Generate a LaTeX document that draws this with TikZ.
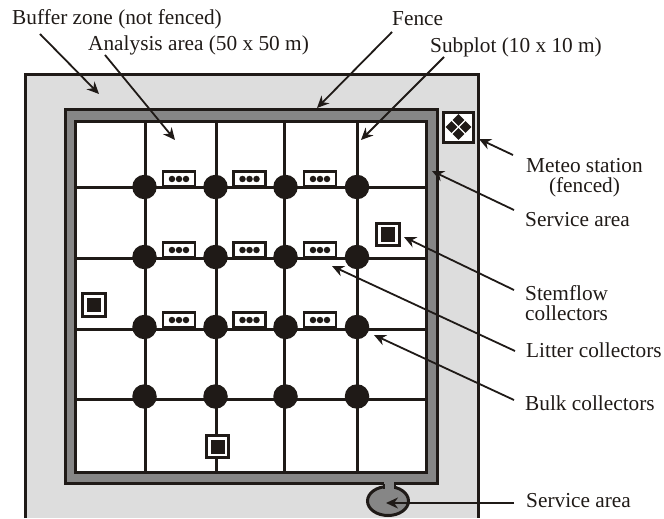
\documentclass[tikz,border=0pt]{standalone}
\usepackage{fontspec}
\setmainfont{Liberation Serif}
\usetikzlibrary{arrows.meta,shapes.geometric}
\definecolor{ink}{HTML}{1F1A17}
\definecolor{zone}{HTML}{DDDDDD}
\definecolor{svc}{HTML}{868686}
\tikzset{
  lbl/.style={font=\fontsize{21.3bp}{20.5bp}\selectfont,text=ink,inner sep=0pt,align=center},
  leader/.style={draw=ink,line width=1.8bp,-{Stealth[length=12bp,width=11bp]}},
  gridline/.style={draw=ink,line width=3bp},
  bulk/.style={circle,fill=ink,minimum size=24.5bp,inner sep=0pt},
  stem/.style={draw=ink,line width=3bp,fill=white,minimum size=22.5bp,inner sep=0pt},
  stemcore/.style={fill=ink,minimum size=14bp,inner sep=0pt},
  litter/.style={draw=ink,line width=2.2bp,fill=white,minimum width=32bp,minimum height=15bp,inner sep=0pt},
  lit dot/.style={circle,fill=ink,minimum size=6.5bp,inner sep=0pt},
  gem/.style={diamond,fill=ink,minimum size=12bp,inner sep=0pt}
}
\begin{document}
\begin{tikzpicture}[x=1bp,y=-1bp]
\useasboundingbox (0,0) rectangle (664,519);
% buffer zone, open at the bottom
\fill[zone] (25.5,75) rectangle (478,518);
\draw[ink,line width=3bp] (25.5,518) -- (25.5,75) -- (478,75) -- (478,518);
% service pad
\node[ellipse,draw=ink,line width=3bp,fill=svc,minimum width=41bp,minimum height=29bp,inner sep=0pt] (pad) at (388,501) {};
% fence and service area
\draw[ink,line width=3bp,fill=svc] (65,110) rectangle (437.5,483.5);
\fill[svc] (384,481) rectangle (394,490);
\draw[ink,line width=2bp] (383.5,484) -- (383.5,489) (394.5,484) -- (394.5,489);
\draw[ink,line width=3.2bp,fill=white] (75.5,121.5) rectangle (426.5,472.5);
% grid
\foreach \x in {145,216,284,357} \draw[gridline] (\x,122) -- (\x,472);
\foreach \y in {187.5,258,329,399.5} \draw[gridline] (76,\y) -- (426,\y);
% bulk collectors
\foreach \x/\i in {144.5/1,215.5/2,285.5/3,357/4}
  \foreach \y/\j in {187/1,257/2,327/3,396.5/4}
    \node[bulk] (b\i\j) at (\x,\y) {};
% litter collectors
\foreach \x/\i in {179/1,249.5/2,320/3}
  \foreach \y/\j in {179/1,250/2,320/3} {
    \node[litter] (l\i\j) at (\x,\y) {};
    \foreach \d in {-7,0,7} \node[lit dot] at (\x+\d,\y) {};
  }
% stemflow collectors
\foreach \x/\y/\n in {94/305/a,217.5/446.5/b,388/234.5/c} {
  \node[stem] (s\n) at (\x,\y) {};
  \node[stemcore] at (\x,\y) {};
}
% meteo station
\node[draw=ink,line width=3bp,fill=white,minimum size=30bp,inner sep=0pt] (meteo) at (458.5,128) {};
\foreach \dx/\dy in {-7/0,7/0,0/-7,0/7} \node[gem] at (458.5+\dx,127+\dy) {};
% labels
\node[lbl,anchor=west] (tbuffer) at (12,19.5) {Buffer zone (not fenced)};
\node[lbl,anchor=west] (tanalysis) at (88,45.5) {Analysis area (50 x 50 m)};
\node[lbl,anchor=west] (tfence) at (392,19) {Fence};
\node[lbl,anchor=west] (tsubplot) at (430,47.5) {Subplot (10 x 10 m)};
\node[lbl] (tmeteo) at (584.5,177.5) {Meteo station\\(fenced)};
\node[lbl,anchor=west] (tsvc) at (525,220) {Service area};
\node[lbl,anchor=west,align=left] (tstem) at (525,303) {Stemflow\\collectors};
\node[lbl,anchor=west] (tlitter) at (526,350) {Litter collectors};
\node[lbl,anchor=west] (tbulk) at (525,403) {Bulk collectors};
\node[lbl,anchor=west] (tsvcb) at (526,501) {Service area};
% leader ends
\coordinate (a1) at (40,34);   \coordinate (a2) at (99,94);
\coordinate (b1) at (105,55);  \coordinate (b2) at (175,140);
\coordinate (c1) at (392,32);  \coordinate (c2) at (317,108);
\coordinate (d1) at (444,57);  \coordinate (d2) at (361,140);
\coordinate (e1) at (513,155); \coordinate (e2) at (479,139);
\coordinate (f1) at (514,210); \coordinate (f2) at (432,171);
\coordinate (g1) at (514,290); \coordinate (g2) at (404,237);
\coordinate (h1) at (515,351); \coordinate (h2) at (332,266);
\coordinate (i1) at (514,400); \coordinate (i2) at (374,335);
\coordinate (j1) at (514,503); \coordinate (j2) at (386,503);
\foreach \p in {a,b,c,d,e,f,g,h,i,j} \draw[leader] (\p1) -- (\p2);
\end{tikzpicture}
\end{document}
